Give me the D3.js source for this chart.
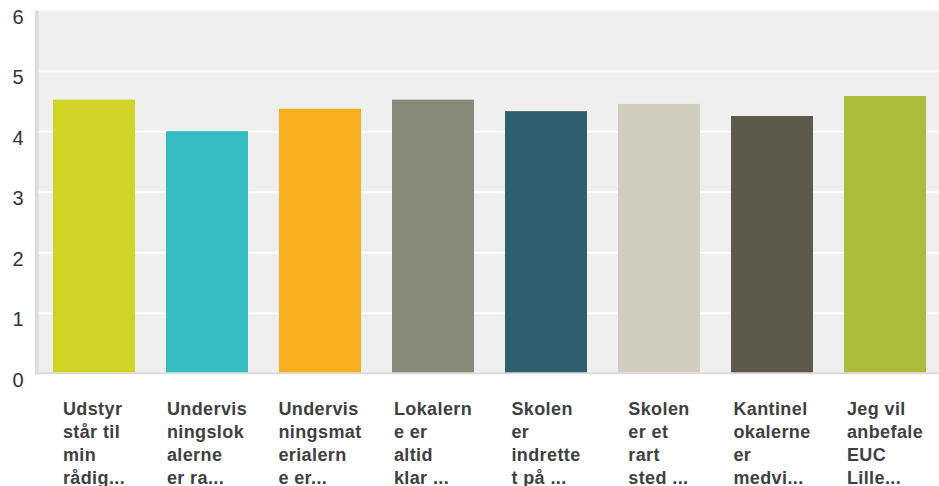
<!DOCTYPE html>
<html>
<head>
<meta charset="utf-8">
<script src="https://cdn.jsdelivr.net/npm/d3@7"></script>
<style>
  html, body { margin: 0; padding: 0; background: #ffffff; }
  svg { display: block; }
</style>
</head>
<body>
<div id="chart"></div>
<script>
const categories = [
  ["Udstyr", "står til", "min", "rådig..."],
  ["Undervis", "ningslok", "alerne", "er ra..."],
  ["Undervis", "ningsmat", "erialern", "e er..."],
  ["Lokalern", "e er", "altid", "klar ..."],
  ["Skolen", "er", "indrette", "t på ..."],
  ["Skolen", "er et", "rart", "sted ..."],
  ["Kantinel", "okalerne", "er", "medvi..."],
  ["Jeg vil", "anbefale", "EUC", "Lille..."]
];
const values = [4.53, 4.01, 4.38, 4.53, 4.34, 4.46, 4.26, 4.59];
const colors = ["#d0d426", "#34bec0", "#f6af1f", "#888a79", "#2d606c", "#cfcebe", "#5b5a4b", "#aabd3a"];
const yTicks = [0, 1, 2, 3, 4, 5, 6];

const W = 939, H = 486;
const svg = d3.select("#chart").append("svg").attr("width", W).attr("height", H);

const plotLeft = 38, plotRight = 939, plotTop = 10.7, plotBottom = 373.8;

const x = d3.scaleBand()
  .domain(d3.range(categories.length))
  .range([37.5, 941.5])
  .paddingInner(0.2743)
  .paddingOuter(0.13715);

const y = d3.scaleLinear().domain([0, 6]).range([plotBottom, plotTop]);

// plot background
svg.append("rect")
  .attr("x", plotLeft).attr("y", y(6))
  .attr("width", plotRight - plotLeft).attr("height", y(0) - y(6))
  .attr("fill", "#efefef");

// gridlines
svg.append("g")
  .selectAll("line")
  .data(yTicks.filter(t => t > 0 && t < 6))
  .join("line")
  .attr("x1", plotLeft).attr("x2", plotRight)
  .attr("y1", d => y(d)).attr("y2", d => y(d))
  .attr("stroke", "#ffffff").attr("stroke-width", 2);

// left axis strip
svg.append("rect")
  .attr("x", 35).attr("y", y(6))
  .attr("width", 3.5).attr("height", y(0) - y(6) + 1)
  .attr("fill", "#dcdcdc");
// bottom axis line
svg.append("rect")
  .attr("x", 35).attr("y", y(0) - 1.5)
  .attr("width", plotRight - 35).attr("height", 2)
  .attr("fill", "#dcdcdc");

// bars
svg.append("g")
  .selectAll("rect")
  .data(values)
  .join("rect")
  .attr("x", (d, i) => x(i))
  .attr("width", x.bandwidth())
  .attr("y", d => y(d))
  .attr("height", d => y(0) - y(d) - 1.5)
  .attr("fill", (d, i) => colors[i]);

// y axis labels
const yAxis = d3.axisLeft(y).tickValues(yTicks).tickSize(0).tickPadding(0).tickFormat(d3.format("d"));
const yg = svg.append("g").attr("transform", "translate(23.5,0)").call(yAxis);
yg.select(".domain").remove();
yg.selectAll("text")
  .attr("dy", "0.32em")
  .attr("y", 6)
  .style("font-family", "'Liberation Sans', Arial, sans-serif")
  .style("font-size", "20px")
  .attr("fill", "#333333");

// category labels
const labelFont = "bold 18px 'Liberation Sans', Arial, sans-serif";
const ctx = document.createElement("canvas").getContext("2d");
ctx.font = labelFont;
const ls = 0.4;
function lineWidth(s) { return ctx.measureText(s).width + ls * s.length; }

const lg = svg.append("g");
categories.forEach((lines, i) => {
  const maxW = d3.max(lines, lineWidth);
  const cx = x(i) + x.bandwidth() / 2;
  const t = lg.append("text")
    .attr("x", cx - maxW / 2)
    .attr("y", 415)
    .style("font", labelFont)
    .style("letter-spacing", ls + "px")
    .attr("fill", "#404040");
  lines.forEach((ln, j) => {
    t.append("tspan").attr("x", cx - maxW / 2).attr("y", 415 + j * 23).text(ln);
  });
});
</script>
</body>
</html>
